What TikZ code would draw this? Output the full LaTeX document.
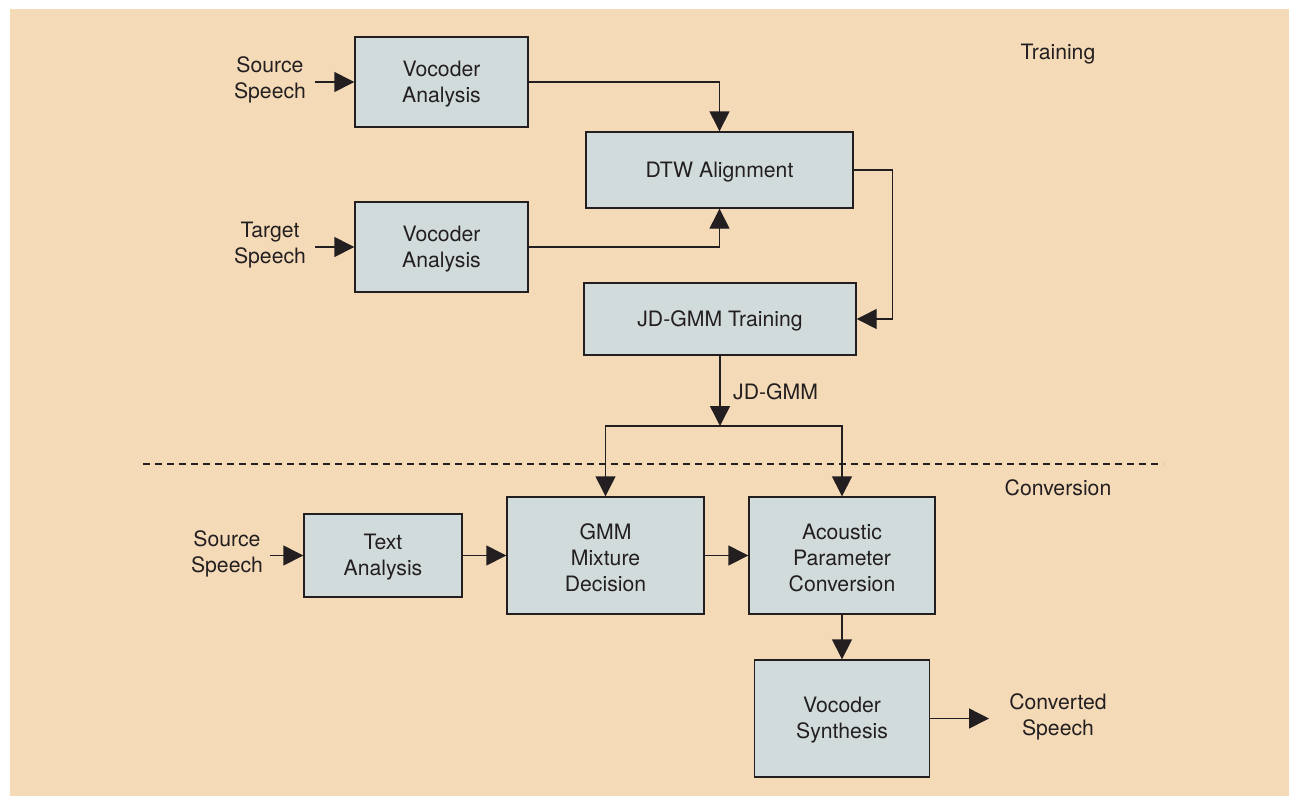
\documentclass[tikz,border=0pt]{standalone}
\usepackage{fontspec}
\setmainfont{TeX Gyre Heros}
\usetikzlibrary{arrows.meta}
\definecolor{panel}{HTML}{F5DAB8}
\definecolor{boxfill}{HTML}{D2DBDB}
\definecolor{ink}{HTML}{231F20}
\tikzset{
  blk/.style={draw=ink, fill=boxfill, line width=1.4pt, inner sep=0pt},
  lbl/.style={align=center, text=ink, inner sep=0pt},
  % caption set slightly below the geometric centre of a block
  cap/.style={label={[lbl, yshift=-2pt]center:#1}},
  flow/.style={draw=ink, line width=1.4pt,
               -{Triangle[length=20pt,width=20pt]}},
  sep/.style={draw=ink, line width=1.2pt, dash pattern=on 7pt off 5pt}
}
\begin{document}
\begin{tikzpicture}[x=1pt,y=-1pt,
  every node/.style={font=\fontsize{21.2}{26}\selectfont}]
\useasboundingbox (0,0) rectangle (1289,796);
\fill[panel] (10,9) rectangle (1289,796);

% training stage
\node[blk, minimum width=173pt, minimum height=90pt, cap={Vocoder\\Analysis}] (va1) at (441.5,82) {};
\node[blk, minimum width=173pt, minimum height=90pt, cap={Vocoder\\Analysis}] (va2) at (441.5,247) {};
\node[blk, minimum width=267pt, minimum height=76pt, cap={DTW Alignment}] (dtw) at (719.5,170) {};
\node[blk, minimum width=272pt, minimum height=72pt, cap={JD-GMM Training}] (jdt) at (720,319) {};

\node[lbl] (src1) at (270,80) {Source\\Speech};
\node[lbl] (tgt) at (270,245) {Target\\Speech};
\node[lbl] (train) at (1058,54) {Training};

\coordinate (in1) at (315,82);
\coordinate (in2) at (315,247);
\coordinate (split) at (720,426);

\draw[flow] (in1) -- (va1.west);
\draw[flow] (in2) -- (va2.west);
\draw[flow] (va1.east) -| (dtw.north);
\draw[flow] (va2.east) -| (dtw.south);
\draw[flow] (dtw.east) -- ++(39,0) |- (jdt.east);
\draw[flow] (jdt.south) -- (split);
\node[lbl, anchor=west] (jdlbl) at (733,392) {JD-GMM};

% stage separator
\coordinate (sepL) at (143,464);
\coordinate (sepR) at (1163,464);
\draw[sep] (sepL) -- (sepR);
\node[lbl] (conv) at (1058,488) {Conversion};

% conversion stage
\node[blk, minimum width=158pt, minimum height=83pt, cap={Text\\Analysis}] (ta) at (383,555.5) {};
\node[blk, minimum width=197pt, minimum height=117pt, cap={GMM\\Mixture\\Decision}] (gmm) at (605.5,555.5) {};
\node[blk, minimum width=186pt, minimum height=117pt, cap={Acoustic\\Parameter\\Conversion}] (apc) at (842,555.5) {};
\node[blk, minimum width=175pt, minimum height=117pt, cap={Vocoder\\Synthesis}] (vs) at (842,718.5) {};

\node[lbl] (src2) at (227,554) {Source\\Speech};
\node[lbl] (outlbl) at (1058,717) {Converted\\Speech};

\coordinate (in3) at (270,555.5);
\coordinate (out) at (989,718.5);

\draw[flow] (split) -| (gmm.north);
\draw[flow] (split) -| (apc.north);
\draw[flow] (in3) -- (ta.west);
\draw[flow] (ta.east) -- (gmm.west);
\draw[flow] (gmm.east) -- (apc.west);
\draw[flow] (apc.south) -- (vs.north);
\draw[flow] (vs.east) -- (out);
\end{tikzpicture}
\end{document}
